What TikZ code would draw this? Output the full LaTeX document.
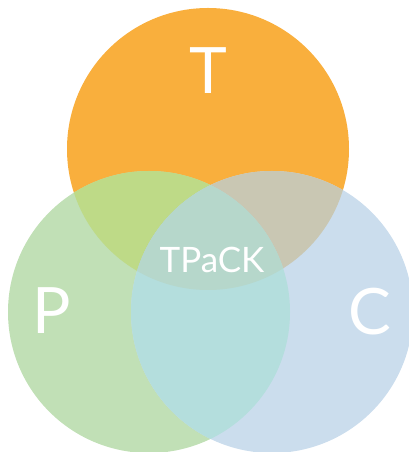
\documentclass[tikz,border=0pt]{standalone}
\usepackage{fontspec}
\setmainfont{Lato}
\definecolor{tOrange}{HTML}{F9AF3D}
\definecolor{pGreen}{HTML}{C1E0B6}
\definecolor{cBlue}{HTML}{CBDDED}
\definecolor{tpMix}{HTML}{BEDA87}
\definecolor{tcMix}{HTML}{C9C7B3}
\definecolor{pcMix}{HTML}{B4DEDD}
\definecolor{coreMix}{HTML}{B6D7CB}
\tikzset{
  bigletter/.style={text=white, inner sep=0pt, font=\fontsize{64}{64}\selectfont},
  corelabel/.style={text=white, inner sep=0pt, font=\fontsize{35}{35}\selectfont}
}

\begin{document}
\begin{tikzpicture}[x=1pt, y=1pt]
\useasboundingbox (0,0) rectangle (409,452);

% centres of the three circles
\coordinate (tc) at (208,303);
\coordinate (pc) at (149,140);
\coordinate (cc) at (272,140);
\def\rad{141}

% plain circles
\fill[tOrange] (tc) circle (\rad);
\fill[pGreen] (pc) circle (\rad);
\fill[cBlue] (cc) circle (\rad);

% pairwise overlaps
\begin{scope}
  \clip (tc) circle (\rad);
  \fill[tpMix] (pc) circle (\rad);
  \fill[tcMix] (cc) circle (\rad);
\end{scope}
\begin{scope}
  \clip (pc) circle (\rad);
  \fill[pcMix] (cc) circle (\rad);
\end{scope}

% middle part shared by all three
\begin{scope}
  \clip (tc) circle (\rad);
  \clip (pc) circle (\rad);
  \fill[coreMix] (cc) circle (\rad);
\end{scope}

\node[bigletter] (T) at (208,381) {T};
\node[bigletter] (P) at (52,141) {P};
\node[bigletter] (C) at (370,140) {C};
\node[corelabel] (tpack) at (212,192) {TPaCK};

\end{tikzpicture}
\end{document}
